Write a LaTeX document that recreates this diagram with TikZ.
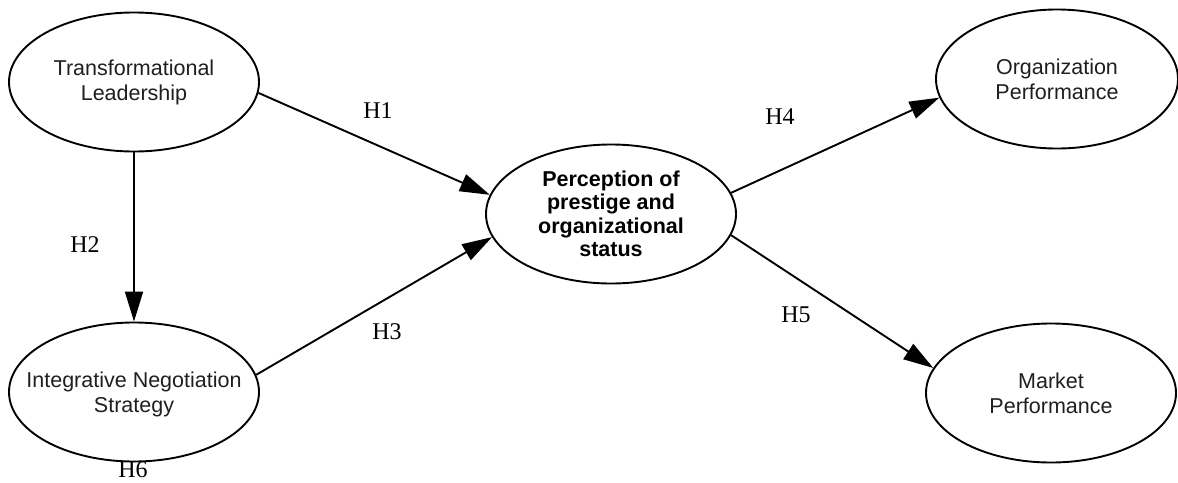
\documentclass[tikz,border=0pt]{standalone}
\usepackage{fontspec}
\setmainfont{Liberation Serif}
\newfontfamily\arialf{Liberation Sans}
\usetikzlibrary{shapes.geometric,arrows.meta}
\begin{document}
\begin{tikzpicture}[x=1pt,y=-1pt,
  var/.style={draw=black, line width=1.9pt, ellipse, inner sep=0pt,
    minimum width=250pt, minimum height=139pt},
  vtext/.style={inner sep=0pt, align=center,
    font=\arialf\fontsize{21.5}{25}\selectfont, text=black!88},
  mtext/.style={inner sep=0pt, align=center,
    font=\arialf\bfseries\fontsize{21.5}{23.5}\selectfont, text=black},
  hyp/.style={font=\fontsize{24}{26}\selectfont, inner sep=0pt},
  link/.style={line width=1.9pt, -{Triangle[length=30pt,width=18pt]}}]
\useasboundingbox (0,0) rectangle (1178,482);
\node[var] (tl) at (134,82) {};
\node[vtext] (tlt) at (tl) {Transformational\\Leadership};
\node[var] (in) at (134,392) {};
\node[vtext] (int) at (134,394) {Integrative Negotiation\\Strategy};
\node[var] (p) at (611,214) {};
\node[mtext] (pt) at (p) {Perception of\\prestige and\\organizational\\status};
\node[var, minimum width=242pt] (op) at (1057,79) {};
\node[vtext] (opt) at (op) {Organization\\Performance};
\node[var] (mp) at (1051,393) {};
\node[vtext] (mpt) at (mp) {Market\\Performance};

\draw[link] (tl.-5) -- (p.171);
\draw[link] (tl.south) -- (in.north);
\draw[link] (in.8) -- (p.191);
\draw[link] (p.10) -- (op.189);
\draw[link] (p.-10) -- (mp.168);

\node[hyp] (h1) at (378,111) {H1};
\node[hyp] (h2) at (85,245) {H2};
\node[hyp] (h3) at (387,332) {H3};
\node[hyp] (h4) at (780,117) {H4};
\node[hyp] (h5) at (796,315) {H5};
\node[hyp] (h6) at (133,470) {H6};
\end{tikzpicture}
\end{document}
